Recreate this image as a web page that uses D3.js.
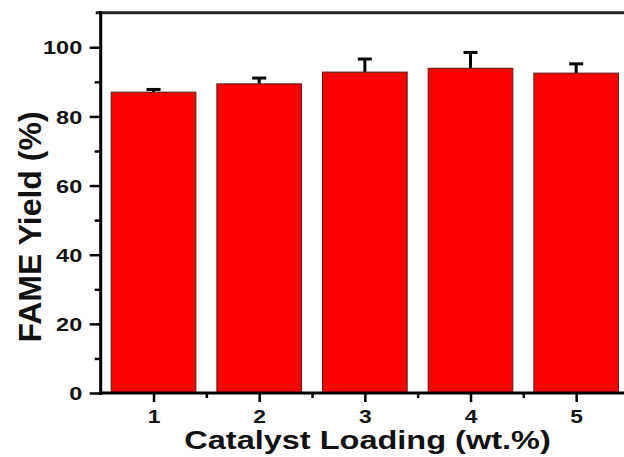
<!DOCTYPE html>
<html>
<head>
<meta charset="utf-8">
<script src="https://cdn.jsdelivr.net/npm/d3@7"></script>
<style>
  html, body { margin: 0; padding: 0; background: #fff; }
  svg { display: block; }
  text { font-family: "Liberation Sans", Arial, sans-serif; font-weight: bold; fill: #111; }
</style>
</head>
<body>
<svg id="chart" width="624" height="457"></svg>
<script>
// ---- data ----
const categories = [1, 2, 3, 4, 5];
const yieldValues = [87.0, 89.4, 92.8, 93.9, 92.5];
const yieldErrors = [0.8, 1.7, 3.8, 4.6, 2.7];
const yTickValues = [0, 20, 40, 60, 80, 100];
const yMinorTicks = [10, 30, 50, 70, 90];
const xTickValues = [1, 2, 3, 4, 5];
const xMinorTicks = [1.5, 2.5, 3.5, 4.5];
const xTitle = "Catalyst Loading (wt.%)";
const yTitle = "FAME Yield (%)";

// ---- layout ----
const plotLeft = 100.7, plotTop = 12.7, plotBottom = 393, plotRight = 629;
const svg = d3.select("#chart");

const x = d3.scaleLinear().domain([0.5, 5.5]).range([plotLeft, plotRight]);
const y = d3.scaleLinear().domain([0, 110]).range([plotBottom, plotTop]);

// bars
const data = categories.map((c, i) => ({ c, v: yieldValues[i], e: yieldErrors[i] }));
const halfW = 0.4;

// error bars (upper only)
const eb = svg.append("g");
eb.selectAll("line.stem").data(data).join("line").attr("class", "stem")
  .attr("x1", d => x(d.c)).attr("x2", d => x(d.c))
  .attr("y1", d => y(d.v)).attr("y2", d => y(d.v + d.e))
  .attr("stroke", "#000").attr("stroke-width", 3);
eb.selectAll("line.cap").data(data).join("line").attr("class", "cap")
  .attr("x1", d => x(d.c) - 7).attr("x2", d => x(d.c) + 7)
  .attr("y1", d => y(d.v + d.e)).attr("y2", d => y(d.v + d.e))
  .attr("stroke", "#000").attr("stroke-width", 3);

svg.append("g").selectAll("rect").data(data).join("rect")
  .attr("x", d => x(d.c - halfW))
  .attr("width", d => x(d.c + halfW) - x(d.c - halfW))
  .attr("y", d => y(d.v))
  .attr("height", d => y(0) - y(d.v))
  .attr("fill", "#ff0000")
  .attr("stroke", "#6b2020")
  .attr("stroke-width", 1.2);

// top frame line
svg.append("line")
  .attr("x1", plotLeft - 5).attr("x2", 624)
  .attr("y1", plotTop).attr("y2", plotTop)
  .attr("stroke", "#222").attr("stroke-width", 3);

// y axis
const yAxis = svg.append("g").attr("transform", `translate(${plotLeft},0)`)
  .call(d3.axisLeft(y).tickValues(yTickValues).tickSize(11).tickSizeOuter(0));
yAxis.select(".domain").attr("stroke", "#000").attr("stroke-width", 3)
  .attr("d", `M0,${plotTop - 1.5}V${plotBottom + 2}`);
yAxis.selectAll(".tick line").attr("stroke", "#000").attr("stroke-width", 2.5);
yAxis.selectAll(".tick text")
  .attr("x", 0).attr("dy", "0.36em")
  .attr("transform", "translate(-18.5,0) scale(1.27,1)")
  .attr("text-anchor", "end")
  .style("font-size", "18.5px").style("font-family", "'Liberation Sans', Arial, sans-serif")
  .style("font-weight", "bold").attr("fill", "#111");

const yMinor = svg.append("g").attr("transform", `translate(${plotLeft},0)`)
  .call(d3.axisLeft(y).tickValues(yMinorTicks).tickSize(6).tickFormat(""));
yMinor.select(".domain").remove();
yMinor.selectAll(".tick line").attr("stroke", "#000").attr("stroke-width", 2.5);

// x axis
const xAxis = svg.append("g").attr("transform", `translate(0,${plotBottom})`)
  .call(d3.axisBottom(x).tickValues(xTickValues).tickSize(9).tickSizeOuter(0).tickFormat(d3.format("d")));
xAxis.select(".domain").attr("stroke", "#000").attr("stroke-width", 3)
  .attr("d", `M${plotLeft - 1.5},0H624`);
xAxis.selectAll(".tick line").attr("stroke", "#000").attr("stroke-width", 2.5);
xAxis.selectAll(".tick text")
  .attr("y", 0).attr("dy", 0)
  .attr("transform", "translate(0,30) scale(1.2,1)")
  .style("font-size", "19px").style("font-family", "'Liberation Sans', Arial, sans-serif")
  .style("font-weight", "bold").attr("fill", "#111");

const xMinor = svg.append("g").attr("transform", `translate(0,${plotBottom})`)
  .call(d3.axisBottom(x).tickValues(xMinorTicks).tickSize(5).tickFormat(""));
xMinor.select(".domain").remove();
xMinor.selectAll(".tick line").attr("stroke", "#000").attr("stroke-width", 2.5);

// axis titles
svg.append("text")
  .attr("transform", "translate(367.5,449) scale(1.3,1)")
  .attr("text-anchor", "middle")
  .style("font-size", "25px")
  .text(xTitle);

svg.append("text")
  .attr("transform", "translate(40.5,227) rotate(-90)")
  .attr("text-anchor", "middle")
  .style("font-size", "32px")
  .text(yTitle);
</script>
</body>
</html>
